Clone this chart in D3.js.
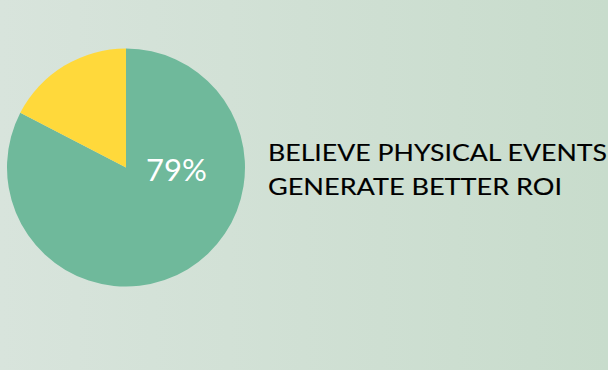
<!DOCTYPE html>
<html><head><meta charset="utf-8">
<script src="https://cdn.jsdelivr.net/npm/d3@7"></script>
<style>html,body{margin:0;padding:0;overflow:hidden;}</style>
</head><body>
<svg id="c" width="608" height="370"></svg>
<script>
// Data
const categories = ["Believe physical events generate better ROI", "Other"];
const values = [82.6, 17.4];   // slice sizes as drawn
const sliceLabel = "79%";
const captionLines = ["BELIEVE PHYSICAL EVENTS", "GENERATE BETTER ROI"];
const colors = ["#6fb99b", "#ffd93b"];

const svg = d3.select("#c");
const defs = svg.append("defs");
const grad = defs.append("linearGradient").attr("id", "bg").attr("x1", "0").attr("x2", "1").attr("y1", "0").attr("y2", "0");
grad.append("stop").attr("offset", "0").attr("stop-color", "#d8e4dc");
grad.append("stop").attr("offset", "1").attr("stop-color", "#c8dccc");
svg.append("rect").attr("width", 608).attr("height", 370).attr("fill", "url(#bg)");

const cx = 126, cy = 167.5, r = 119;
const pie = d3.pie().sort(null).startAngle(0).endAngle(2 * Math.PI).value(d => d);
const arcs = pie(values);
const arc = d3.arc().innerRadius(0).outerRadius(r);
const g = svg.append("g").attr("transform", `translate(${cx},${cy})`);
g.selectAll("path").data(arcs).join("path")
  .attr("d", arc)
  .attr("fill", (d, i) => colors[i]);

g.append("text")
  .attr("x", 50.5).attr("y", 13.5)
  .attr("text-anchor", "middle")
  .attr("fill", "#ffffff")
  .style("font-family", "Lato, 'Open Sans', sans-serif")
  .style("font-size", "31px")
  .text(sliceLabel);

const tx = 268;
svg.selectAll("text.cap").data(captionLines).join("text")
  .attr("class", "cap")
  .attr("x", tx)
  .attr("y", (d, i) => 161 + i * 34)
  .attr("fill", "#000")
  .attr("stroke", "#000")
  .attr("stroke-width", 0.12)
  .style("font-family", "Lato, 'Open Sans', sans-serif")
  .style("font-size", "22.5px")
  .attr("textLength", (d, i) => i === 0 ? 339 : 294)
  .attr("lengthAdjust", "spacingAndGlyphs")
  .text(d => d);
</script>
</body></html>
